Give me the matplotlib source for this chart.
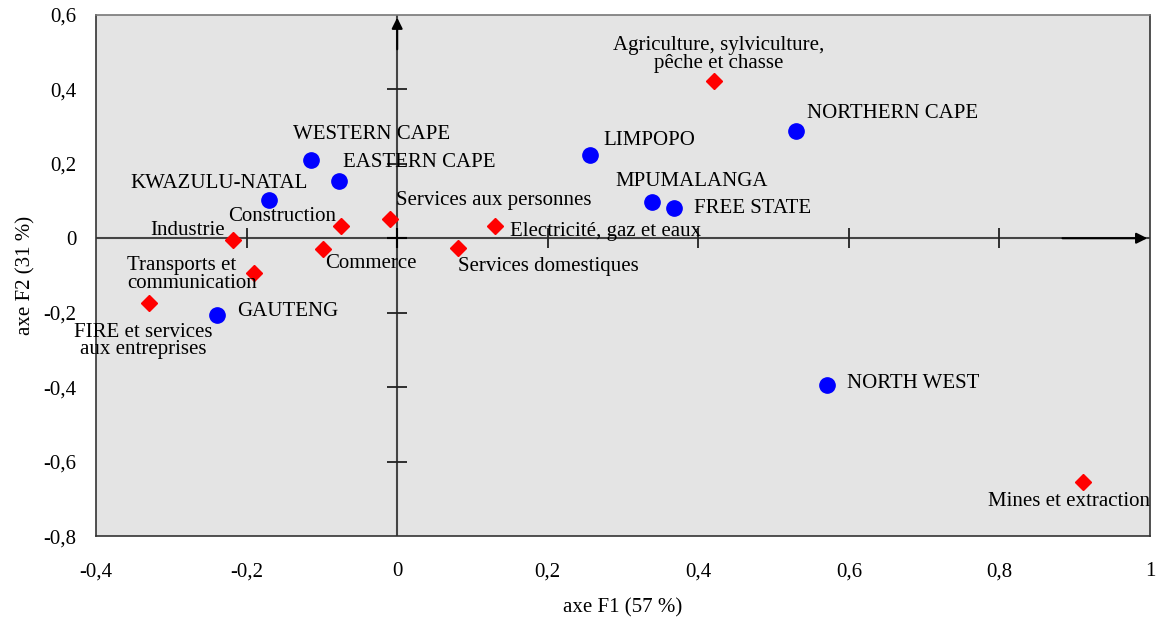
import numpy as np
import matplotlib.pyplot as plt
from matplotlib.ticker import FuncFormatter

plt.rcParams['font.family'] = ['Liberation Serif', 'DejaVu Serif']
plt.rcParams['font.size'] = 15

# provinces (blue circles)
prov_names = ['WESTERN CAPE', 'EASTERN CAPE', 'KWAZULU-NATAL', 'LIMPOPO',
              'NORTHERN CAPE', 'MPUMALANGA', 'FREE STATE', 'GAUTENG', 'NORTH WEST']
prov_x = [-0.114, -0.077, -0.170, 0.256, 0.530, 0.339, 0.368, -0.239, 0.571]
prov_y = [0.211, 0.154, 0.103, 0.224, 0.289, 0.096, 0.080, -0.205, -0.395]

# sectors (red diamonds)
sect_names = ['Agriculture, sylviculture,\npêche et chasse', 'Services aux personnes',
              'Electricité, gaz et eaux', 'Construction', 'Industrie', 'Commerce',
              'Services domestiques', 'Transports et\ncommunication',
              'FIRE et services\naux entreprises', 'Mines et extraction']
sect_x = [0.421, -0.009, 0.130, -0.074, -0.218, -0.098, 0.081, -0.190, -0.330, 0.911]
sect_y = [0.423, 0.052, 0.034, 0.032, -0.006, -0.028, -0.025, -0.094, -0.175, -0.655]

# label offsets in points: (dx, dy, ha, multialign)
prov_lab = [(-13, 18, 'left', 'left'), (3, 13, 'left', 'left'), (-36, 12, 'center', 'left'),
            (10, 10, 'left', 'left'), (8, 12, 'left', 'left'), (-27, 15, 'left', 'left'),
            (14, 0, 'left', 'left'), (14, 2, 'left', 'left'), (14, 1, 'left', 'left')]
sect_lab = [(3, 19, 'center', 'center'), (4, 13, 'left', 'left'), (11, -4, 'left', 'left'),
            (-4, 7, 'right', 'left'), (-6, 7, 'right', 'left'), (1, -11, 'left', 'left'),
            (0, -14, 'left', 'left'), (2, -1, 'right', 'left'), (-4, -27, 'center', 'center'),
            (-10, -14, 'center', 'center')]

xticks = [-0.4, -0.2, 0, 0.2, 0.4, 0.6, 0.8, 1]
yticks = [-0.8, -0.6, -0.4, -0.2, 0, 0.2, 0.4, 0.6]

fig = plt.figure(figsize=(11.57, 6.19), dpi=100)
ax = fig.add_axes([0.083, 0.134, 0.911, 0.842])
ax.set_facecolor('#e4e4e4')
ax.set_xlim(-0.4, 1)
ax.set_ylim(-0.8, 0.6)

for s in ax.spines.values():
    s.set_color('#333333')
    s.set_linewidth(1.2)
ax.spines['top'].set_color('#777777')

ax.set_xticks(xticks)
ax.set_yticks(yticks)
fmt = FuncFormatter(lambda v, p: ('%g' % v).replace('.', ','))
ax.xaxis.set_major_formatter(fmt)
ax.yaxis.set_major_formatter(fmt)
ax.tick_params(length=0, labelsize=15)
ax.tick_params(axis='x', pad=19)
ax.tick_params(axis='y', pad=14)

ax.set_xlabel('axe F1 (57 %)', fontsize=15, labelpad=12)
ax.set_ylabel('axe F2 (31 %)', fontsize=15, labelpad=6)

# zero axes with arrows
ax.axhline(0, color='#444444', lw=1.5, zorder=1)
ax.axvline(0, color='#444444', lw=1.5, zorder=1)
ax.annotate('', xy=(1, 0), xytext=(0.88, 0),
            arrowprops=dict(arrowstyle='-|>', color='black', lw=1.5, mutation_scale=16))
ax.annotate('', xy=(0, 0.6), xytext=(0, 0.5),
            arrowprops=dict(arrowstyle='-|>', color='black', lw=1.5, mutation_scale=16))

# tick marks on the zero axes
tx = [v for v in xticks if v not in (0, 1, -0.4)]
ty = [v for v in yticks if v not in (0, 0.6, -0.8)]
ax.plot(tx, [0] * len(tx), ls='none', marker='|', ms=14, mew=1.3, color='#222222', zorder=2)
ax.plot([0] * len(ty), ty, ls='none', marker='_', ms=14, mew=1.3, color='#222222', zorder=2)
ax.plot([0], [0], ls='none', marker='+', ms=14, mew=1.5, color='black', zorder=2)

ax.plot(prov_x, prov_y, ls='none', marker='o', ms=11, color='#0000ff', zorder=3)
ax.plot(sect_x, sect_y, ls='none', marker='D', ms=8.5, color='#ff0000', zorder=3)

for n, x, y, (dx, dy, ha, ma) in zip(prov_names, prov_x, prov_y, prov_lab):
    ax.annotate(n, (x, y), xytext=(dx, dy), textcoords='offset points',
                ha=ha, va='center', multialignment=ma, fontsize=15, zorder=4)
for n, x, y, (dx, dy, ha, ma) in zip(sect_names, sect_x, sect_y, sect_lab):
    ax.annotate(n, (x, y), xytext=(dx, dy), textcoords='offset points',
                ha=ha, va='center', multialignment=ma, fontsize=15,
                linespacing=0.9, zorder=4)

fig.savefig('out.png', dpi=100)
